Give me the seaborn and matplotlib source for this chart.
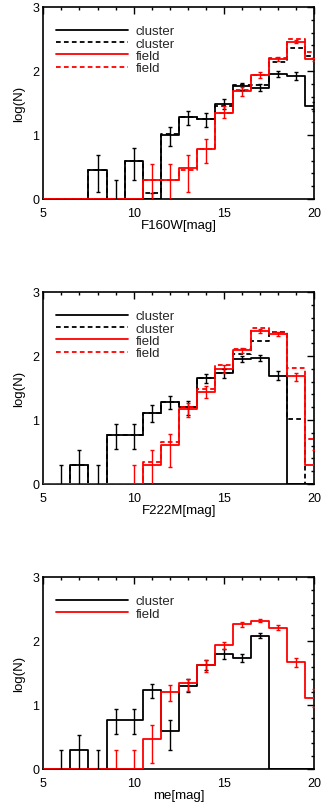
import numpy as np
import pandas as pd
import matplotlib
matplotlib.use("Agg")
import matplotlib.pyplot as plt
from matplotlib.ticker import MultipleLocator
import seaborn as sns

# ---------------- data ----------------
mag = [5, 6, 7, 8, 9, 10, 11, 12, 13, 14, 15, 16, 17, 18, 19, 20]

# Panel 1: F160W
f160_cluster = [0, 0, 0, 0.46, 0, 0.60, 0, 1.00, 1.28, 1.25, 1.49, 1.77, 1.74, 1.95, 1.92, 1.45]
f160_cluster_d = [0, 0, 0, 0.46, 0, 0.60, 0.09, 1.02, 1.28, 1.25, 1.46, 1.78, 1.78, 2.14, 2.36, 2.23]
f160_field = [0, 0, 0, 0, 0, 0, 0.30, 0.30, 0.48, 0.78, 1.34, 1.68, 1.93, 2.19, 2.46, 2.18]
f160_field_d = [0, 0, 0, 0, 0, 0, 0.30, 0.30, 0.45, 0.78, 1.34, 1.70, 1.93, 2.21, 2.50, 2.30]
f160_cl_lo = [np.nan, np.nan, np.nan, 0.11, -1, 0.30, -1, 0.83, 1.15, 1.13, 1.40, 1.71, 1.68, 1.90, 1.86, 1.38]
f160_cl_hi = [np.nan, np.nan, np.nan, 0.69, 0.30, 0.79, 0.10, 1.13, 1.38, 1.35, 1.57, 1.82, 1.80, 2.00, 1.98, 1.52]
f160_fi_lo = [np.nan, np.nan, np.nan, np.nan, np.nan, np.nan, -1, -1, 0.11, 0.56, 1.26, 1.61, 1.89, 2.16, 2.43, 2.15]
f160_fi_hi = [np.nan, np.nan, np.nan, np.nan, np.nan, np.nan, 0.55, 0.55, 0.69, 0.93, 1.45, 1.75, 1.98, 2.22, 2.49, 2.21]

# Panel 2: F222M
f222_cluster = [0, 0, 0.30, 0, 0.77, 0.77, 1.11, 1.28, 1.20, 1.65, 1.73, 1.95, 1.97, 1.69, 0, 0]
f222_cluster_d = [0, 0, 0.30, 0, 0.77, 0.77, 1.11, 1.28, 1.20, 1.65, 1.74, 2.03, 2.23, 2.37, 1.01, 0]
f222_field = [0, 0, 0, 0, 0, 0, 0.30, 0.61, 1.17, 1.44, 1.79, 2.09, 2.39, 2.35, 1.68, 0.30]
f222_field_d = [0, 0, 0, 0, 0, 0, 0.35, 0.65, 1.20, 1.48, 1.86, 2.11, 2.44, 2.37, 1.82, 0.71]
f222_cl_lo = [np.nan, -1, -1, -1, 0.55, 0.55, 0.97, 1.17, 1.08, 1.58, 1.66, 1.90, 1.92, 1.62, np.nan, np.nan]
f222_cl_hi = [np.nan, 0.30, 0.53, 0.30, 0.93, 0.93, 1.23, 1.38, 1.30, 1.72, 1.80, 2.00, 2.02, 1.76, np.nan, np.nan]
f222_fi_lo = [np.nan, np.nan, np.nan, np.nan, np.nan, -1, -1, 0.27, 1.05, 1.34, 1.73, 2.05, 2.36, 2.32, 1.61, -1]
f222_fi_hi = [np.nan, np.nan, np.nan, np.nan, np.nan, 0.30, 0.53, 0.78, 1.27, 1.53, 1.86, 2.13, 2.42, 2.38, 1.73, 0.53]

# Panel 3: me
me_cluster = [0, 0, 0.30, 0, 0.77, 0.77, 1.23, 0.60, 1.30, 1.63, 1.80, 1.74, 2.08, 0, 0, 0]
me_field = [0, 0, 0, 0, 0, 0, 0.47, 1.20, 1.34, 1.62, 1.94, 2.26, 2.32, 2.21, 1.67, 1.11]
me_cl_lo = [np.nan, -1, -1, -1, 0.55, 0.55, 1.11, 0.30, 1.20, 1.54, 1.72, 1.67, 2.04, np.nan, np.nan, np.nan]
me_cl_hi = [np.nan, 0.30, 0.53, 0.30, 0.93, 0.93, 1.33, 0.77, 1.40, 1.70, 1.87, 1.80, 2.12, np.nan, np.nan, np.nan]
me_fi_lo = [np.nan, np.nan, np.nan, np.nan, -1, -1, 0.10, 1.07, 1.22, 1.52, 1.88, 2.22, 2.29, 2.17, 1.59, 0.97]
me_fi_hi = [np.nan, np.nan, np.nan, np.nan, 0.30, 0.30, 0.68, 1.31, 1.41, 1.71, 1.99, 2.30, 2.35, 2.25, 1.74, 1.25]

xlabels = ["F160W[mag]", "F222M[mag]", "me[mag]"]
ylabel = "log(N)"
xticks = [5, 10, 15, 20]
yticks = [0, 1, 2, 3]

# ---------------- styling ----------------
sns.set_theme(style="white")
plt.rcParams["font.family"] = ["Liberation Sans", "DejaVu Sans"]

W, H = 321, 803
fig = plt.figure(figsize=(W / 100, H / 100), dpi=100)

left = 43.3 / W
width = (314.3 - 43.3) / W
ph = 192 / H
bottoms = [1 - 200 / H, 1 - 485 / H, 1 - 770 / H]

DASH = (0, (2.6, 1.8))
LW = 1.3
FS = 9.5


def errbars(ax, x, lo, hi, color):
    x = np.asarray(x, float)
    lo = np.asarray(lo, float)
    hi = np.asarray(hi, float)
    m = ~np.isnan(hi)
    xs, l, h = x[m], lo[m], hi[m]
    mid = (l + h) / 2
    ax.errorbar(xs, mid, yerr=[mid - l, h - mid], fmt="none", ecolor=color,
                elinewidth=1.0, capsize=1.6, capthick=1.0, zorder=4)


def steps(ax, y, color, ls, label):
    df = pd.DataFrame({"mag": mag, "logN": y})
    sns.lineplot(data=df, x="mag", y="logN", ax=ax, color=color, linestyle=ls,
                 linewidth=LW, drawstyle="steps-mid", estimator=None,
                 label=label, legend=False, zorder=3)


panels = [
    dict(lines=[(f160_cluster, "black", "-", "cluster"),
                (f160_cluster_d, "black", DASH, "cluster"),
                (f160_field, "red", "-", "field"),
                (f160_field_d, "red", DASH, "field")],
         errs=[(f160_cl_lo, f160_cl_hi, "black"), (f160_fi_lo, f160_fi_hi, "red")]),
    dict(lines=[(f222_cluster, "black", "-", "cluster"),
                (f222_cluster_d, "black", DASH, "cluster"),
                (f222_field, "red", "-", "field"),
                (f222_field_d, "red", DASH, "field")],
         errs=[(f222_cl_lo, f222_cl_hi, "black"), (f222_fi_lo, f222_fi_hi, "red")]),
    dict(lines=[(me_cluster, "black", "-", "cluster"),
                (me_field, "red", "-", "field")],
         errs=[(me_cl_lo, me_cl_hi, "black"), (me_fi_lo, me_fi_hi, "red")]),
]

for i, p in enumerate(panels):
    ax = fig.add_axes([left, bottoms[i], width, ph])
    for y, c, ls, lab in p["lines"]:
        steps(ax, y, c, ls, lab)
    for lo, hi, c in p["errs"]:
        errbars(ax, mag, lo, hi, c)

    ax.set_xlim(5, 20)
    ax.set_ylim(0, 3)
    ax.set_xticks(xticks)
    ax.set_yticks(yticks)
    ax.xaxis.set_minor_locator(MultipleLocator(1))
    ax.yaxis.set_minor_locator(MultipleLocator(0.2))
    ax.tick_params(which="both", direction="in", top=True, right=True,
                   color="black", width=1.0)
    ax.tick_params(which="major", length=5, labelsize=9, colors="black")
    ax.tick_params(which="minor", length=2.5)
    ax.tick_params(axis="x", which="major", pad=6)
    ax.tick_params(axis="y", which="major", pad=3)
    for s in ax.spines.values():
        s.set_color("black")
        s.set_linewidth(1.2)
    ax.set_xlabel(xlabels[i], fontsize=FS, color="black", labelpad=0)
    ax.set_ylabel(ylabel, fontsize=FS, color="black", labelpad=5)
    ax.grid(False)

    ax.legend(loc="upper left", bbox_to_anchor=(0.047, 0.905), frameon=False,
              fontsize=FS, handlelength=5.45, handletextpad=0.6,
              labelspacing=0.0, borderpad=0, borderaxespad=0)

fig.savefig("out.png", dpi=100)
